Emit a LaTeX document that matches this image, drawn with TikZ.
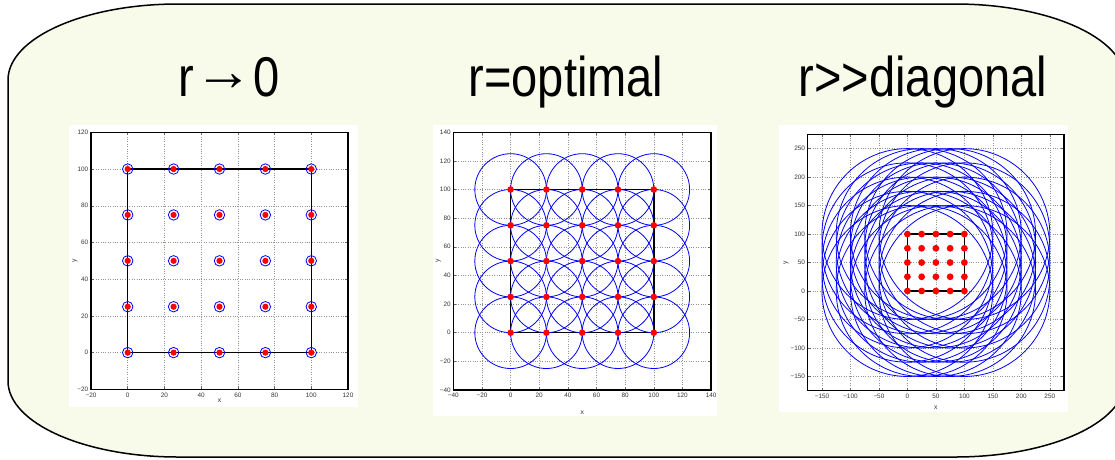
\documentclass[tikz,border=0pt]{standalone}
\usepackage{graphicx}
\usepackage{fontspec}
\setmainfont{Liberation Sans}
\newfontfamily\titlefont[FakeStretch=0.84]{Liberation Sans}
\definecolor{bgfill}{RGB}{248,251,233}
\definecolor{tickgray}{RGB}{55,55,55}
\tikzset{
  frame/.style={draw=black, line width=1.5pt, fill=bgfill},
  plotbg/.style={fill=white, draw=none},
  gridline/.style={draw=gray!85, line width=0.45pt, dash pattern=on 0.7pt off 1.7pt},
  tickmark/.style={draw=gray!80!black, line width=0.5pt},
  axisbox/.style={draw=black, line width=1.3pt},
  ticklab/.style={font=\fontsize{6.4}{7}\selectfont, text=tickgray, inner sep=0pt},
  axlab/.style={font=\fontsize{6.8}{7}\selectfont, text=tickgray, inner sep=0pt},
  rangecircle/.style={draw=blue, line width=0.8pt},
  sensor/.style={fill=red, draw=none},
  region/.style={draw=black, line width=1.4pt},
  title/.style={font=\titlefont\fontsize{56}{60}\selectfont, inner sep=0pt, anchor=base}
}
\begin{document}
\begin{tikzpicture}[x=1pt,y=-1pt]
\useasboundingbox (0,0) rectangle (1115,459);
% outer rounded panel
\path[frame] (8,80) .. controls (8,38) and (84.1,4) .. (178,4) -- (955,4)
  .. controls (1048.9,4) and (1125,38) .. (1125,80) -- (1125,381)
  .. controls (1125,423) and (1048.9,457) .. (955,457) -- (178,457)
  .. controls (84.1,457) and (8,423) .. (8,381) -- cycle;

% titles
\node[title] (t1) at (229,96) {r\raisebox{6pt}{\scalebox{1.25}[1]{→}}0};
\node[title] (t2) at (566,96) {r=optimal};
\node[title] (t3) at (923,96) {r>>diagonal};

% white plot backgrounds
\fill[plotbg] (69,125) rectangle (358,407);
\fill[plotbg] (433,125) rectangle (717,416);
\fill[plotbg] (779,125) rectangle (1068,412);

% ---------------- plot 1 : r -> 0
\begin{scope}[shift={(127.7pt,-352.6pt)}, x=1.8357pt, y=1.8357pt]
  \foreach \t in {0,20,...,100} {
    \draw[gridline] (\t,-20) -- (\t,120);
    \draw[gridline] (-20,\t) -- (120,\t);
  }
  \foreach \t in {0,20,...,100} {
    \draw[tickmark] (\t,-20) -- ++(0,3pt);
    \draw[tickmark] (\t,120) -- ++(0,-3pt);
    \draw[tickmark] (-20,\t) -- ++(3pt,0);
    \draw[tickmark] (120,\t) -- ++(-3pt,0);
  }
  \foreach \t/\l in {-20/−20,0/0,20/20,40/40,60/60,80/80,100/100,120/120} {
    \node[ticklab, anchor=north, yshift=-3.2pt] (p1x\t) at (\t,-20) {\l};
    \node[ticklab, anchor=east, xshift=-2.5pt] (p1y\t) at (-20,\t) {\l};
  }
  \draw[region] (0,0) rectangle (100,100);
  \foreach \i in {0,25,...,100} \foreach \j in {0,25,...,100} {
    \draw[rangecircle] (\i,\j) circle[radius=2.85];
    \fill[sensor] (\i,\j) circle[radius=3.1pt];
  }
  \draw[axisbox] (-20,-20) rectangle (120,120);
  \node[axlab] (p1xl) at (50,-26) {x};
  \node[axlab, rotate=90] (p1yl) at (-28.7,50) {y};
\end{scope}

% ---------------- plot 2 : r = optimal
\begin{scope}[shift={(510.6pt,-332.7pt)}, x=1.432pt, y=1.432pt]
  \foreach \t in {-20,0,...,120} {
    \draw[gridline] (\t,-40) -- (\t,140);
    \draw[gridline] (-40,\t) -- (140,\t);
  }
  \foreach \t in {-20,0,...,120} {
    \draw[tickmark] (\t,-40) -- ++(0,3pt);
    \draw[tickmark] (\t,140) -- ++(0,-3pt);
    \draw[tickmark] (-40,\t) -- ++(3pt,0);
    \draw[tickmark] (140,\t) -- ++(-3pt,0);
  }
  \foreach \t/\l in {-40/−40,-20/−20,0/0,20/20,40/40,60/60,80/80,100/100,120/120,140/140} {
    \node[ticklab, anchor=north, yshift=-3.2pt] (p2x\t) at (\t,-40) {\l};
    \node[ticklab, anchor=east, xshift=-2.5pt] (p2y\t) at (-40,\t) {\l};
  }
  \draw[region] (0,0) rectangle (100,100);
  \foreach \i in {0,25,...,100} \foreach \j in {0,25,...,100} {
    \draw[rangecircle] (\i,\j) circle[radius=25];
  }
  \foreach \i in {0,25,...,100} \foreach \j in {0,25,...,100} {
    \fill[sensor] (\i,\j) circle[radius=3.3pt];
  }
  \draw[axisbox] (-40,-40) rectangle (140,140);
  \node[axlab] (p2xl) at (50,-56) {x};
  \node[axlab, rotate=90] (p2yl) at (-50.5,50) {y};
\end{scope}

% ---------------- plot 3 : r >> diagonal
\begin{scope}[shift={(907.4pt,-291pt)}, x=0.5696pt, y=0.5696pt]
  \foreach \t in {-150,-100,...,250} {
    \draw[gridline] (\t,-175) -- (\t,275);
    \draw[gridline] (-175,\t) -- (275,\t);
  }
  \foreach \t in {-150,-100,...,250} {
    \draw[tickmark] (\t,-175) -- ++(0,3pt);
    \draw[tickmark] (\t,275) -- ++(0,-3pt);
    \draw[tickmark] (-175,\t) -- ++(3pt,0);
    \draw[tickmark] (275,\t) -- ++(-3pt,0);
  }
  \foreach \t/\l in {-150/−150,-100/−100,-50/−50,0/0,50/50,100/100,150/150,200/200,250/250} {
    \node[ticklab, anchor=north, yshift=-3.2pt] (p3x\t) at (\t,-175) {\l};
    \node[ticklab, anchor=east, xshift=-2.5pt] (p3y\t) at (-175,\t) {\l};
  }
  \draw[region] (0,0) rectangle (100,100);
  \foreach \i in {0,25,...,100} \foreach \j in {0,25,...,100} {
    \draw[rangecircle] (\i,\j) circle[radius=150];
  }
  \foreach \i in {0,25,...,100} \foreach \j in {0,25,...,100} {
    \fill[sensor] (\i,\j) circle[radius=3.4pt];
  }
  \draw[axisbox] (-175,-175) rectangle (275,275);
  \node[axlab] (p3xl) at (50,-204) {x};
  \node[axlab, rotate=90] (p3yl) at (-213,50) {y};
\end{scope}
\end{tikzpicture}
\end{document}
